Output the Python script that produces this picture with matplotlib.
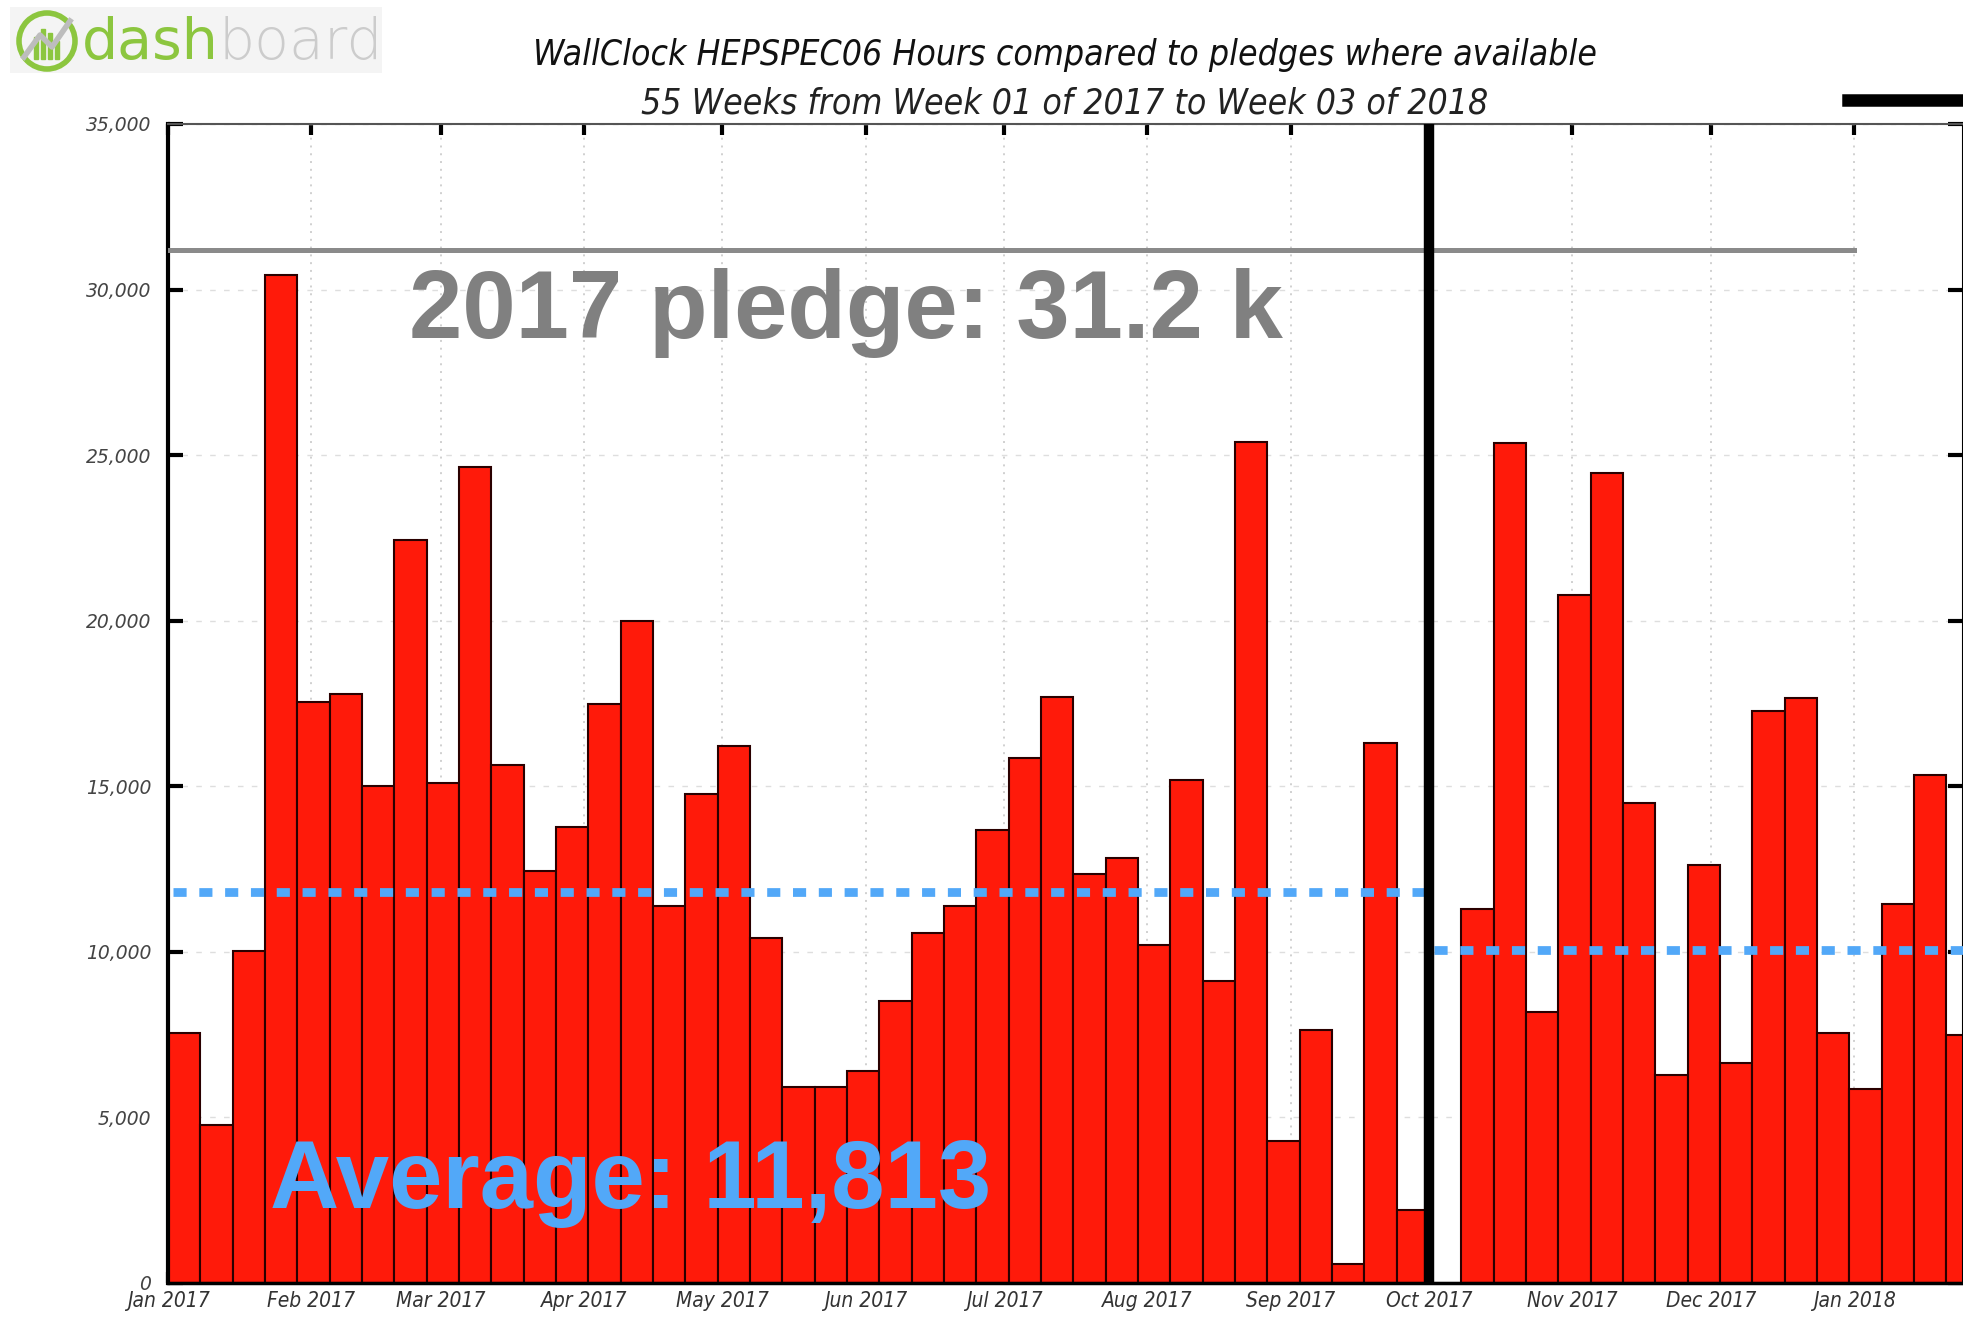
import matplotlib
matplotlib.use('Agg')
import matplotlib.pyplot as plt
import matplotlib.dates as mdates
from matplotlib.patches import Circle, Rectangle
from matplotlib.ticker import FuncFormatter
import pandas as pd

# weekly wallclock HS06 hours (week 40 is empty)
hours = [7550, 4760, 10040, 30450, 17550, 17800, 15000, 22450, 15100, 24630,
         15630, 12450, 13780, 17490, 19980, 11390, 14780, 16220, 10410, 5920,
         5920, 6390, 8510, 10570, 11370, 13690, 15860, 17710, 12350, 12840,
         10200, 15200, 9120, 25400, 4290, 7630, 570, 16300, 2200, 0,
         11290, 25360, 8180, 20790, 24450, 14500, 6270, 12610, 6630, 17270,
         17660, 7560, 5860, 11460, 15330, 7490]
week_start = pd.date_range('2017-01-01', periods=len(hours), freq='7D')

pledge_2017 = 31200
avg_2017 = 11813
avg_2018 = 10050
fy_start = pd.Timestamp('2017-10-01')
fy_start2 = pd.Timestamp('2017-10-02')
pledge_end = pd.Timestamp('2018-01-01')
x_left = pd.Timestamp('2017-01-01')
x_right = pd.Timestamp('2018-01-24 14:00')

title = "WallClock HEPSPEC06 Hours compared to pledges where available"
subtitle = "55 Weeks from Week 01 of 2017 to Week 03 of 2018"

W, H = 1963, 1321
fig = plt.figure(figsize=(W / 100, H / 100), dpi=100)
ax = fig.add_axes([168 / W, 1 - 1283 / H, (W - 168) / W, (1283 - 124) / H])

ax.bar(week_start, hours, width=7, align='edge', color='#ff1a0a',
       edgecolor='#2a0000', linewidth=1.5, zorder=2)

# pledge and averages
blue = '#52a8f8'
ax.plot([x_left, pledge_end], [pledge_2017, pledge_2017], color='#8a8a8a', lw=3.6, zorder=3)
ax.plot([pd.Timestamp('2017-01-02'), fy_start], [avg_2017, avg_2017], color=blue, lw=6.3,
        ls=(0, (1.5, 1.45)), zorder=4)
ax.plot([fy_start2, x_right], [avg_2018, avg_2018], color=blue, lw=6.3,
        ls=(0, (1.5, 1.45)), zorder=4)
ax.axvline(fy_start, color='black', lw=7.5, zorder=5)

ax.set_xlim(x_left, x_right)
ax.set_ylim(0, 35000)
ax.set_yticks(range(0, 35001, 5000))
ax.yaxis.set_major_formatter(FuncFormatter(lambda v, p: '{:,.0f}'.format(v)))
ax.xaxis.set_major_locator(mdates.MonthLocator())
ax.xaxis.set_major_formatter(mdates.DateFormatter('%b %Y'))

ax.set_axisbelow(True)
ax.grid(axis='y', ls=(0, (4, 6)), color='#dedede', lw=1.0)
ax.grid(axis='x', ls=(0, (1, 3)), color='#d0d0d0', lw=1.4)

ax.tick_params(axis='x', direction='in', top=True, bottom=True, length=8, width=3,
               pad=6, labelsize=15, labelcolor='#333333')
ax.tick_params(axis='y', direction='in', left=True, right=True, length=11, width=3,
               pad=12, labelsize=13.5, labelcolor='#444444')
for lab in ax.get_xticklabels():
    lab.set_fontstyle('italic')
    lab.set_fontstretch('condensed')
for lab in ax.get_yticklabels():
    lab.set_fontstyle('italic')

ax.spines['left'].set_linewidth(3)
ax.spines['bottom'].set_linewidth(2.5)
ax.spines['top'].set_linewidth(1.5)
ax.spines['top'].set_color('#555555')
ax.spines['right'].set_linewidth(1.5)

# annotations
fig.text(409 / W, 1 - 338 / H, "2017 pledge: 31.2 k", fontsize=69, fontweight='bold',
         family='Liberation Sans', color='#808080', va='baseline', ha='left')
fig.text(270 / W, 1 - 1208 / H, "Average: 11,813", fontsize=69, fontweight='bold',
         family='Liberation Sans', color=blue, va='baseline', ha='left')

# titles
fig.text(1065 / W, 1 - 65 / H, title, fontsize=25.5, style='italic', fontstretch='condensed',
         color='#111111', ha='center', va='baseline')
fig.text(1065 / W, 1 - 113 / H, subtitle, fontsize=25.5, style='italic', fontstretch='condensed',
         color='#222222', ha='center', va='baseline')

# cropped legend marker top right
fig.add_artist(plt.Line2D([1848 / W, 1.0], [1 - 100 / H, 1 - 100 / H], color='black',
                          lw=9, transform=fig.transFigure))

# dashboard logo
lax = fig.add_axes([10 / W, 1 - 73 / H, 372 / W, 66 / H])
lax.set_xlim(0, 372)
lax.set_ylim(0, 66)
lax.axis('off')
lax.add_patch(Rectangle((0, 0), 372, 66, color='#f4f4f4', zorder=0))
green = '#8cc63f'
lax.add_patch(Circle((37, 32), 28, fill=False, ec=green, lw=4))
for bx, bh in [(24, 22), (31, 30), (38, 26), (45, 18)]:
    lax.add_patch(Rectangle((bx, 14), 3.5, bh, color=green))
lax.plot([14, 30, 42, 60], [16, 38, 26, 52], color='#bdbdbd', lw=4)
t1 = lax.text(72, 14, "dash", fontsize=41, color=green, va='baseline', ha='left')
lax.annotate("board", xy=(1, 0), xycoords=t1, xytext=(0, 0), textcoords='offset points',
             fontsize=41, color='#cccccc', va='bottom', ha='left', fontweight='light')

fig.savefig('out.png', dpi=100)
